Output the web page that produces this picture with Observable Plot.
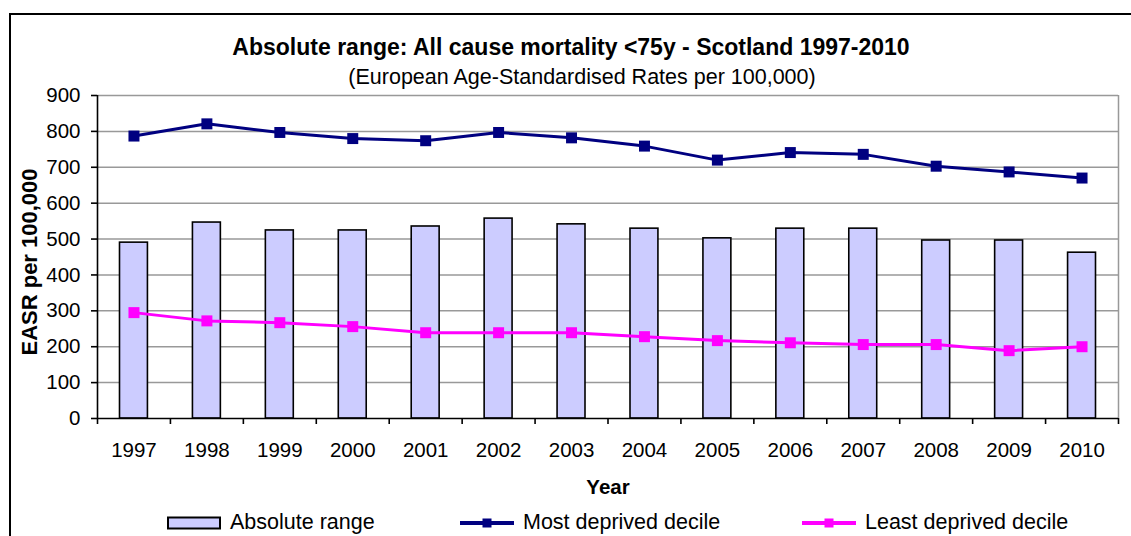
<!DOCTYPE html>
<html><head><meta charset="utf-8">
<script src="https://cdn.jsdelivr.net/npm/d3@7"></script>
<script src="https://cdn.jsdelivr.net/npm/@observablehq/plot@0.6"></script>
<style>
body{margin:0;background:#fff;font-family:"Liberation Sans",Arial,sans-serif;}
#wrap{position:relative;width:1131px;height:536px;overflow:hidden;background:#fff}
#border{position:absolute;left:9px;top:13px;width:1200px;height:600px;border:2px solid #000;box-sizing:border-box}
#chart{position:absolute;left:0;top:0}
.t{position:absolute;white-space:nowrap;color:#000;line-height:1}
.c{transform:translateX(-50%)}
.leg{position:absolute;top:512px;height:22px;display:flex;align-items:center;font-size:21.5px;white-space:nowrap;line-height:1}
.leg svg{margin-right:8px}
</style></head><body>
<div id="wrap">
<div id="border"></div>
<div id="chart"></div>
<div class="t c" id="title" style="left:571px;top:36px;font-size:23px;font-weight:bold">Absolute range: All cause mortality &lt;75y - Scotland 1997-2010</div>
<div class="t c" id="subtitle" style="left:582px;top:67px;font-size:21.5px">(European Age-Standardised Rates per 100,000)</div>
<div id="legend"></div>
</div>
<script>
const years = ["1997","1998","1999","2000","2001","2002","2003","2004","2005","2006","2007","2008","2009","2010"];
const absoluteRange = [490, 546, 524, 524, 535, 557, 541, 529, 502, 529, 529, 496, 496, 462];
const mostDeprived = [787, 821, 797, 780, 774, 797, 782, 759, 720, 741, 736, 703, 687, 670];
const leastDeprived = [295, 272, 267, 256, 239, 239, 239, 228, 217, 211, 206, 206, 189, 200];
const yTicks = [0, 100, 200, 300, 400, 500, 600, 700, 800, 900];
const seriesNames = ["Absolute range", "Most deprived decile", "Least deprived decile"];
const colors = {bar: "#ccccff", most: "#000080", least: "#ff00ff"};

const data = years.map((year, i) => ({year, range: absoluteRange[i], most: mostDeprived[i], least: leastDeprived[i]}));

const W = 1131, H = 536, mL = 97, mR = 13, mT = 95, mB = 118;
const step = (W - mL - mR) / years.length;
const last = years[years.length - 1];

const chart = Plot.plot({
  width: W, height: H,
  marginLeft: mL, marginRight: mR, marginTop: mT, marginBottom: mB,
  style: {fontFamily: '"Liberation Sans", Arial, sans-serif', fontSize: "20.5px", color: "#000", background: "transparent", overflow: "visible"},
  x: {type: "band", domain: years, padding: 0, round: false},
  y: {domain: [0, 900]},
  marks: [
    Plot.ruleY(yTicks.filter(d => d > 0), {stroke: "#999", strokeWidth: 1.5}),
    Plot.ruleX([last], {x: d => d, dx: step / 2, y1: 0, y2: 900, stroke: "#999", strokeWidth: 1.5}),
    Plot.barY(data, {x: "year", y: "range", fill: colors.bar, stroke: "#000", strokeWidth: 1.6, insetLeft: 22.5, insetRight: 22.5}),
    Plot.line(data, {x: "year", y: "most", stroke: colors.most, strokeWidth: 3}),
    Plot.dot(data, {x: "year", y: "most", symbol: "square", r: 6.2, fill: colors.most}),
    Plot.line(data, {x: "year", y: "least", stroke: colors.least, strokeWidth: 3}),
    Plot.dot(data, {x: "year", y: "least", symbol: "square", r: 6.2, fill: colors.least}),
    Plot.ruleY([0], {stroke: "#000", strokeWidth: 1.6}),
    Plot.ruleX([years[0]], {x: d => d, dx: -step / 2, y1: 0, y2: 900, stroke: "#000", strokeWidth: 1.6}),
    Plot.ruleX(years, {x: d => d, dx: -step / 2, y1: 0, y2: 0, insetBottom: -6, stroke: "#000", strokeWidth: 1.6}),
    Plot.ruleX([last], {x: d => d, dx: step / 2, y1: 0, y2: 0, insetBottom: -6, stroke: "#000", strokeWidth: 1.6}),
    Plot.axisY({ticks: yTicks, tickSize: 6, tickPadding: 11, label: null, strokeWidth: 1.6}),
    Plot.axisX({tickSize: 0, tickPadding: 24, label: null}),
    Plot.text(["EASR per 100,000"], {frameAnchor: "left", textAnchor: "middle", lineAnchor: "middle", rotate: -90, dx: -68, dy: 5, fontWeight: "bold", fontSize: 22}),
    Plot.text(["Year"], {frameAnchor: "bottom", lineAnchor: "middle", dy: 69, fontWeight: "bold", fontSize: 20.5})
  ]
});
document.getElementById("chart").appendChild(chart);

// legend
const legend = document.getElementById("legend");
const legendItems = [
  {name: seriesNames[0], left: 167, kind: "box", color: colors.bar},
  {name: seriesNames[1], left: 460, kind: "line", color: colors.most},
  {name: seriesNames[2], left: 802, kind: "line", color: colors.least}
];
for (const it of legendItems) {
  const div = document.createElement("div");
  div.className = "leg";
  div.style.left = it.left + "px";
  const sw = it.kind === "box"
    ? `<svg width="55" height="14"><rect x="1" y="1.5" width="52" height="11" fill="${it.color}" stroke="#000" stroke-width="2"/></svg>`
    : `<svg width="55" height="14"><line x1="0" x2="54" y1="7" y2="7" stroke="${it.color}" stroke-width="4"/><rect x="22.5" y="2.5" width="9" height="9" fill="${it.color}"/></svg>`;
  div.innerHTML = sw + `<span>${it.name}</span>`;
  legend.appendChild(div);
}
</script>
</body></html>
